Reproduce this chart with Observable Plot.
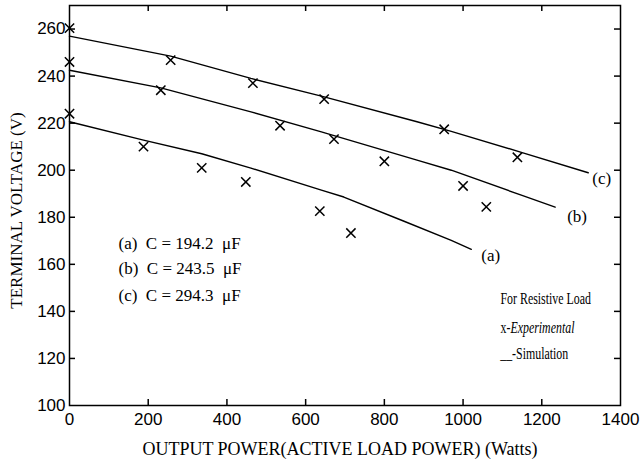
<!DOCTYPE html>
<html>
<head>
<meta charset="utf-8">
<script src="https://cdn.jsdelivr.net/npm/d3@7"></script>
<script src="https://cdn.jsdelivr.net/npm/@observablehq/plot@0.6"></script>
<style>
  html, body { margin: 0; padding: 0; background: white; }
</style>
</head>
<body>
<script>
// ---- data ----
const xTicks = [0, 200, 400, 600, 800, 1000, 1200, 1400];
const yTicks = [100, 120, 140, 160, 180, 200, 220, 240, 260];

// simulation curves
const simPowerA = [0, 188, 336, 461, 640, 697, 850, 970, 1021];
const simVoltA  = [220.6, 212.8, 207, 200.9, 191.5, 188.6, 178.3, 170.2, 166.4];
const simPowerB = [0, 232, 461, 640, 883, 970, 1148, 1234];
const simVoltB  = [242.5, 235, 224.8, 216.3, 204.3, 200, 189.4, 184.3];
const simPowerC = [0, 257, 461, 640, 883, 970, 1148, 1318];
const simVoltC  = [257, 248.5, 239, 231.5, 220.6, 216.5, 207.6, 198.9];

// experimental points
const expPowerA = [0, 188, 336, 448, 636, 715];
const expVoltA  = [224, 210, 201, 195, 182.6, 173.3];
const expPowerB = [0, 232, 535, 672, 800, 1000, 1059];
const expVoltB  = [246, 234, 218.9, 213.2, 203.8, 193.3, 184.4];
const expPowerC = [0, 257, 466, 647, 952, 1138];
const expVoltC  = [260.4, 246.8, 237, 230.2, 217.4, 205.5];

const curveLabels = ["(a)", "(b)", "(c)"];
const legendLines = ["(a)  C = 194.2  \u03BCF", "(b)  C = 243.5  \u03BCF", "(c)  C = 294.3  \u03BCF"];
const noteLines = ["For Resistive Load", "x-Experimental", "__-Simulation"];
const xLabel = "OUTPUT POWER(ACTIVE LOAD POWER) (Watts)";
const yLabel = "TERMINAL VOLTAGE (V)";

// ---- tables built from the arrays ----
const zip = (xs, ys, s) => xs.map((x, i) => ({power: x, volt: ys[i], series: s}));
const sims = [zip(simPowerA, simVoltA, "a"), zip(simPowerB, simVoltB, "b"), zip(simPowerC, simVoltC, "c")];
const exps = [zip(expPowerA, expVoltA, "a"), zip(expPowerB, expVoltB, "b"), zip(expPowerC, expVoltC, "c")];
const ends = sims.map((s, i) => ({...s[s.length - 1], label: curveLabels[i]}));

const serif = "Liberation Serif, Times New Roman, serif";
const innerX = xTicks.slice(1, -1);
const innerY = yTicks.slice(1);
const labelOffsets = [[10, 6], [12, 9], [4, 6]];
const fw = 642 - 69 - 22, fh = 459 - 5 - 54; // frame size, for inward tick marks
const tl = 6; // tick length

const chart = Plot.plot({
  width: 642,
  height: 459,
  marginLeft: 69,
  marginRight: 22,
  marginTop: 5,
  marginBottom: 54,
  x: {domain: [0, 1400]},
  y: {domain: [100, 270]},
  style: {fontFamily: "Liberation Sans, Arial, sans-serif", fontSize: "17px", color: "black", background: "white"},
  marks: [
    Plot.frame({stroke: "black", strokeWidth: 1.5}),
    Plot.axisX(xTicks, {anchor: "bottom", tickSize: 0, tickPadding: 7, label: null, fontSize: 17, tickFormat: d => String(d)}),
    Plot.axisY(yTicks, {anchor: "left", tickSize: 0, tickPadding: 4, label: null, fontSize: 17, tickFormat: d => String(d)}),
    // inward tick marks on all four sides
    Plot.ruleX(innerX, {insetTop: fh - tl, stroke: "black", strokeWidth: 1.5}),
    Plot.ruleX(innerX, {insetBottom: fh - tl, stroke: "black", strokeWidth: 1.5}),
    Plot.ruleY(innerY, {insetRight: fw - tl, stroke: "black", strokeWidth: 1.5}),
    Plot.ruleY(innerY, {insetLeft: fw - tl, stroke: "black", strokeWidth: 1.5}),
    ...sims.map(s => Plot.line(s, {x: "power", y: "volt", stroke: "black", strokeWidth: 1.4})),
    ...exps.map(s => Plot.dot(s, {x: "power", y: "volt", symbol: "times", r: 4.3, stroke: "black", strokeWidth: 1.5})),
    ...ends.map((e, i) => Plot.text([e], {x: "power", y: "volt", text: "label", textAnchor: "start",
      dx: labelOffsets[i][0], dy: labelOffsets[i][1], fontFamily: serif, fontSize: 17})),
    ...legendLines.map((t, i) => Plot.text([t], {frameAnchor: "top-left", text: d => d, textAnchor: "start",
      lineAnchor: "middle", dx: 49, dy: [238, 263, 290][i], fontFamily: serif, fontSize: 17})),
    ...noteLines.map((t, i) => Plot.text([t], {frameAnchor: "top-left", text: d => d, textAnchor: "start",
      lineAnchor: "middle", dx: 431, dy: [293, 322, 348][i], fontFamily: serif, fontSize: 17, className: "anno"})),
    Plot.text([xLabel], {frameAnchor: "bottom", text: d => d, textAnchor: "middle", lineAnchor: "middle", dx: -5, dy: 44,
      fontFamily: serif, fontSize: 18}),
    Plot.text([yLabel], {frameAnchor: "left", text: d => d, textAnchor: "middle", rotate: -90, lineAnchor: "middle", dx: -53, dy: 5,
      fontFamily: serif, fontSize: 17})
  ]
});
document.body.append(chart);

// "Experimental" is set in italics in the reference
d3.select(chart).selectAll("g.anno text").filter(function () { return this.textContent === noteLines[1]; })
  .each(function () {
    const t = d3.select(this);
    t.text(null);
    t.append("tspan").text("x-");
    t.append("tspan").attr("font-style", "italic").text("Experimental");
  });

// the reference's note text is horizontally condensed: scale each line about its own left edge
d3.select(chart).selectAll("g.anno text").each(function () {
  const bx = this.getBBox().x;
  const prev = this.getAttribute("transform") || "";
  this.setAttribute("transform", `${prev} translate(${bx},0) scale(0.7,1) translate(${-bx},0)`.trim());
});
</script>
</body>
</html>
